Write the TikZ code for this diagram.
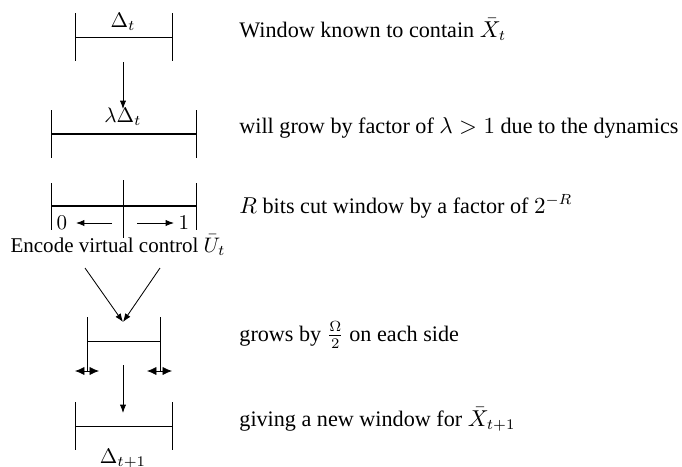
\documentclass[tikz,border=0pt]{standalone}
\usepackage{fontspec}
\setmainfont{Liberation Serif}
\usetikzlibrary{arrows.meta}

\begin{document}
\begin{tikzpicture}[x=0.476pt, y=-0.476pt,
  tick/.style={thin},
  bar/.style={thin},
  fatbar/.style={thick},
  arr/.style={-{Latex[length=4pt,width=3pt]}, thin},
  dbl/.style={{Latex[length=4.5pt,width=4pt]}-{Latex[length=4.5pt,width=4pt]}, thin},
  lbl/.style={inner sep=0pt, anchor=base},
  note/.style={inner sep=0pt, anchor=base west, font=\fontsize{10.55}{12}\selectfont},
]
\useasboundingbox (0,0) rectangle (682,466);

% --- window 1 ---
\draw[tick] (75,13) -- (75,61);
\draw[tick] (172,13) -- (172,61);
\draw[bar] (75,37) -- (172,37);
\node[lbl] (w1lbl) at (123,27) {$\Delta_t$};
\coordinate (w1out) at (123,62);

% --- window 2 ---
\coordinate (w2in) at (123,109);
\draw[tick] (51,110) -- (51,158);
\draw[tick] (196,110) -- (196,158);
\draw[fatbar] (51,134) -- (196,134);
\node[lbl] (w2lbl) at (123,122) {$\lambda\Delta_t$};

% --- window 3 (split) ---
\draw[tick] (51,183) -- (51,230);
\draw[tick] (196,183) -- (196,230);
\draw[tick] (123,180) -- (123,238);
\draw[fatbar] (51,206) -- (196,206);
\node[lbl] (zero) at (62,229) {$0$};
\node[lbl] (one) at (184,229) {$1$};
\coordinate (lft) at (112,223);
\coordinate (lftend) at (76,223);
\coordinate (rgt) at (137,223);
\coordinate (rgtend) at (174,223);
\node[lbl] (enc) at (118,252) {Encode virtual control $\bar{U}_t$};
\coordinate (vl) at (85,268);
\coordinate (vr) at (160,268);
\coordinate (vtip) at (123,322);

% --- window 4 ---
\draw[tick] (87,317) -- (87,372);
\draw[tick] (160,317) -- (160,372);
\draw[bar] (87,341) -- (160,341);
\coordinate (gl1) at (75,371);
\coordinate (gl2) at (99,371);
\coordinate (gr1) at (147,371);
\coordinate (gr2) at (172,371);
\coordinate (w4out) at (123,365);

% --- window 5 ---
\coordinate (w5in) at (123,413);
\draw[tick] (75,402) -- (75,450);
\draw[tick] (172,402) -- (172,450);
\draw[bar] (75,426) -- (172,426);
\node[lbl] (w5lbl) at (123,463) {$\Delta_{t+1}$};

% --- arrows ---
\draw[arr] (w1out) -- (w2in);
\draw[arr] (lft) -- (lftend);
\draw[arr] (rgt) -- (rgtend);
\draw[arr] (vl) -- (vtip);
\draw[arr] (vr) -- (vtip);
\draw[dbl] (gl1) -- (gl2);
\draw[dbl] (gr1) -- (gr2);
\draw[arr] (w4out) -- (w5in);

% --- notes ---
\node[note] (n1) at (239,37) {Window known to contain $\bar{X}_t$};
\node[note] (n2) at (239,133) {will grow by factor of $\lambda>1$ due to the dynamics};
\node[note] (n3) at (239,213) {$R$ bits cut window by a factor of $2^{-R}$};
\node[note] (n4) at (239,341) {grows by $\frac{\Omega}{2}$ on each side};
\node[note] (n5) at (239,426) {giving a new window for $\bar{X}_{t+1}$};
\end{tikzpicture}
\end{document}
